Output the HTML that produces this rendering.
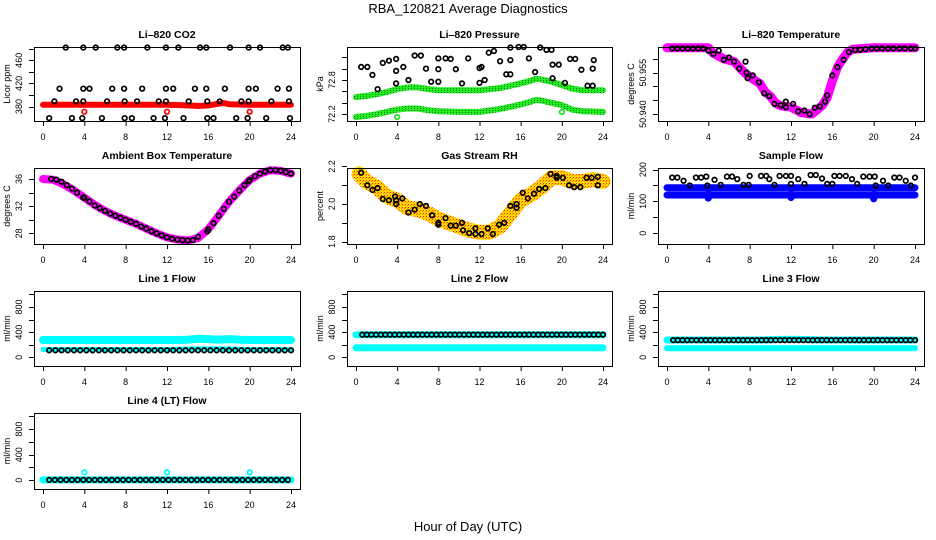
<!DOCTYPE html>
<html><head><meta charset="utf-8"><title>RBA_120821 Average Diagnostics</title>
<style>
html,body{margin:0;padding:0;background:#fff;}
svg{display:block;font-family:"Liberation Sans",sans-serif;}
.t{font-size:10.5px;font-weight:bold;text-anchor:middle;}
.tk{font-size:9px;text-anchor:middle;}
</style></head>
<body>
<svg id="chart" width="936" height="540" viewBox="0 0 936 540">
<defs>
<pattern id="pGreen" width="3" height="2" patternUnits="userSpaceOnUse"><rect width="3" height="2" fill="#22ee22"/><rect width="1" height="1" fill="#117711"/></pattern>
<pattern id="pRH" width="3" height="3" patternUnits="userSpaceOnUse"><rect width="3" height="3" fill="#ffd800"/><rect width="1" height="1" fill="#ff2000"/><rect x="2" y="1" width="1" height="1" fill="#ff8000"/></pattern>
</defs>
<text x="468" y="13" text-anchor="middle" font-size="13">RBA_120821  Average Diagnostics</text>
<text x="468" y="531" text-anchor="middle" font-size="13">Hour of Day (UTC)</text>
</svg>
<script>
// ---------- data ----------
const xTicks=[0,4,8,12,16,20,24];
// CO2
const co2BlackX=[2.2,3.9,5.1,7.2,7.85,10.1,11.9,13.1,15.2,15.8,18.1,19.9,21.0,23.2,23.7,
 1.6,3.9,4.5,6.7,7.85,9.6,11.9,12.6,14.7,15.8,17.6,19.9,20.6,22.7,23.8,
 1.1,3.2,3.9,6.2,7.9,9.1,11.2,11.9,14.1,15.9,17.1,19.2,19.9,22.1,23.8,
 0.6,2.8,3.8,5.7,7.9,8.6,10.7,11.8,13.6,15.9,16.5,18.7,19.8,21.6,23.9];
const co2BlackY=[482,482,482,482,482,482,482,482,482,482,482,482,482,482,482,
 411,411,411,411,411,411,411,411,411,411,411,411,411,411,411,
 389,389,389,389,389,389,389,389,389,389,389,389,389,389,389,
 360,360,360,360,360,360,360,360,360,360,360,360,360,360,360];
const co2RedX=[0,2,4,6,8,10,12,14,15,16,17,17.5,18,20,22,24];
const co2RedY=[383,383,383,383,383,383,383,382,381,382,385,386,384,383,383,383];
const co2OutX=[4,12,20];
const co2OutY=[371,371,371];
// Pressure
const presBandX=[0,1,2,3,4,5,6,7,8,10,12,14,16,17,17.5,18,19,20,21,22,24];
const presUpperY=[72.5,72.52,72.55,72.59,72.64,72.67,72.67,72.64,72.62,72.62,72.62,72.66,72.74,72.79,72.82,72.81,72.77,72.71,72.65,72.62,72.62];
const presLowerY=[72.15,72.17,72.2,72.24,72.28,72.3,72.3,72.27,72.25,72.24,72.24,72.29,72.37,72.42,72.45,72.44,72.40,72.36,72.28,72.25,72.24];
const presOutX=[4,20];
const presOutY=[72.15,72.24];
const presBlackX=[0.5,1.1,1.6,2.1,2.6,3.2,3.9,3.9,3.9,4.6,5.1,5.7,6.3,6.8,7.3,8.0,8.0,8.0,8.7,9.2,9.7,10.3,10.9,12.0,12.2,12.0,12.5,12.9,13.4,14.0,15.0,15.0,14.6,15.0,15.8,16.3,16.8,17.4,17.9,18.5,19.0,19.1,19.7,19.1,20.3,20.8,21.3,21.9,22.5,23.0,23.1,23.0];
const presBlackY=[73.03,73.03,72.89,72.64,73.1,73.14,73.17,72.96,72.74,73.03,72.8,73.23,73.23,73.0,72.77,72.77,72.99,73.18,73.18,73.17,72.99,72.74,73.18,73.01,73.03,72.75,72.8,73.28,73.31,73.13,73.37,73.15,72.9,72.9,73.38,73.38,73.18,72.94,73.37,73.33,73.33,73.07,73.07,72.83,72.75,73.17,73.17,72.98,72.7,72.7,73.15,73.0];
// Li-820 temperature
const tempBandX=[0,4,4.5,5.5,6.5,7,7.5,8,9,9.5,10,10.5,11,12,13,14,14.5,15,15.5,16,16.5,17,17.5,18,20,24];
const tempBandY=[50.964,50.964,50.962,50.960,50.959,50.957,50.955,50.9535,50.951,50.948,50.9465,50.944,50.943,50.9425,50.9405,50.940,50.9415,50.943,50.946,50.952,50.957,50.960,50.9625,50.9635,50.964,50.964];
const tempBlackX=[0.5,1,1.5,2,2.5,3,3.5,4.0,4.5,5.0,5.5,6.0,6.5,7.0,7.6,7.7,7.8,8.3,8.9,9.4,9.9,10.4,11.0,11.5,11.5,12.2,12.7,13.3,13.8,14.3,14.8,15.3,15.5,16.0,16.5,17.1,17.6,18.2,18.7,19.2,19.8,20.3,20.8,21.4,21.9,22.5,23.0,23.6,24];
const tempBlackY=[50.9638,50.9638,50.9638,50.9638,50.9638,50.9638,50.9638,50.963,50.9618,50.963,50.9597,50.9605,50.959,50.9565,50.959,50.955,50.953,50.954,50.9515,50.9475,50.9465,50.9437,50.9432,50.9445,50.9425,50.9437,50.941,50.9413,50.940,50.9423,50.9428,50.9445,50.9468,50.954,50.957,50.9597,50.9625,50.9632,50.9633,50.9635,50.9638,50.9638,50.9638,50.9638,50.9638,50.9638,50.9638,50.9638,50.9638];
// Ambient box temperature
const ambX=[0,1,2,3,4,5,6,7,8,9,10,11,12,13,14,15,16,17,18,19,20,21,22,23,24];
const ambY=[36.0,35.9,35.2,34.3,33.25,32.2,31.3,30.6,30.0,29.4,28.7,28.0,27.4,27.1,26.95,27.3,28.6,30.6,32.65,34.3,35.85,36.8,37.3,37.2,36.8];
const ambBlackX=[0.8,1.3,1.8,2.3,2.8,3.3,3.9,4.0,4.5,5.0,5.5,6.0,6.5,7.0,7.5,8.0,8.5,9.0,9.5,10.0,10.5,11.0,11.5,12.0,12.5,13.0,13.5,14.0,14.5,15.0,15.9,16.0,16.5,17.0,17.5,18.0,18.5,19.0,19.5,19.9,20.0,20.5,21.0,21.5,22.0,22.5,23.0,23.5,24.0];
const ambBlackY=[36.0,35.9,35.6,35.1,34.6,34.0,33.3,33.2,32.7,32.1,31.7,31.3,30.9,30.6,30.3,30.0,29.7,29.4,29.0,28.7,28.3,28.0,27.7,27.4,27.2,27.1,27.0,26.95,27.0,27.5,28.3,28.6,29.5,30.6,31.6,32.65,33.4,34.3,35.1,35.7,35.85,36.4,36.8,37.1,37.3,37.3,37.2,37.0,36.8];
// Gas stream RH
const rhBandX=[0.3,1,2,3,4,5,6,7,8,9,10,11,12,13,14,15,16,17,18,19,20,21,22,23,24];
const rhBandY=[2.16,2.12,2.09,2.04,2.02,1.98,1.97,1.95,1.92,1.9,1.88,1.86,1.85,1.85,1.88,1.95,2.02,2.05,2.09,2.14,2.14,2.12,2.12,2.13,2.12];
const rhBlackX=[0.5,1.1,1.6,2.1,2.6,3.2,3.8,3.9,3.9,4.5,5.1,5.7,6.2,6.8,7.4,8.0,8.0,8.7,9.2,9.7,10.3,10.4,11.0,11.6,11.6,12.2,12.8,13.3,13.9,14.4,15.0,15.6,15.6,16.2,16.7,17.3,17.8,18.4,18.9,19.5,19.5,20.1,20.7,21.2,21.8,22.4,22.9,23.5,23.5];
const rhBlackY=[2.167,2.10,2.075,2.085,2.027,2.02,2.04,2.02,2.0,2.03,1.955,1.97,2.0,1.99,1.94,1.9,1.89,1.925,1.885,1.885,1.9,1.86,1.845,1.84,1.87,1.84,1.87,1.84,1.89,1.9,1.99,2.0,1.98,2.06,2.03,2.055,2.08,2.085,2.16,2.15,2.14,2.14,2.1,2.09,2.09,2.14,2.14,2.145,2.1];
// Sample flow
const sfBandX=[0,3.9,4,4.1,11.9,12,12.1,19.9,20,20.1,24];
const sfUpperY=[143,143,138,143,143,140,143,143,140,143,143];
const sfLowerY=[120,120,110,120,120,112,120,120,108,120,120];
const sfBlackX=[0.5,1.0,1.6,2.2,2.8,3.3,3.8,3.9,4.6,5.2,5.8,6.3,6.8,7.4,7.9,8.0,9.1,9.6,9.9,10.4,10.9,11.5,12.0,12.0,12.7,13.3,13.9,14.4,15.0,15.5,16.0,16.2,16.7,17.3,17.9,18.4,19.0,19.6,20.1,20.2,20.9,21.4,22.0,22.5,23.1,23.6,24.0];
const sfBlackY=[175,175,165,150,175,175,178,150,168,152,178,178,170,152,152,180,180,180,170,152,180,180,180,155,170,155,183,183,172,155,155,180,180,180,170,155,178,178,178,150,165,150,175,175,165,150,175];
// Line flows (hourly values, hours 0..24)
const flowHours=[0,1,2,3,4,5,6,7,8,9,10,11,12,13,14,15,16,17,18,19,20,21,22,23,24];
const line1CyanHi=[275,275,275,275,275,275,275,275,275,275,275,275,275,275,280,295,290,280,290,280,275,275,275,275,275];
const line1CyanLo=[125,125,125,125,125,125,125,125,125,125,125,125,125,130,135,135,135,135,135,130,125,125,125,125,125];
const line1Black=[112,112,112,112,112,112,112,112,112,112,112,112,112,112,112,112,112,112,112,112,112,112,112,112,112];
const line2CyanHi=[360,360,360,360,360,360,360,360,360,360,360,360,360,360,360,360,360,360,360,360,360,360,360,360,360];
const line2CyanLo=[152,152,152,152,152,152,152,152,152,152,152,152,152,152,152,152,152,152,152,152,152,152,152,152,152];
const line2Black=[360,360,360,360,360,360,360,360,360,360,360,360,360,360,360,360,360,360,360,360,360,360,360,360,360];
const line3CyanHi=[275,275,275,275,275,275,275,275,275,275,280,285,285,285,280,275,275,275,275,275,275,275,275,275,275];
const line3CyanLo=[145,145,145,145,145,145,145,145,145,145,145,145,145,145,145,145,145,145,145,145,145,145,145,145,145];
const line3Black=[273,273,273,273,273,273,273,273,273,273,273,273,273,273,273,273,273,273,273,273,273,273,273,273,273];
const line4Cyan=[5,5,5,5,5,5,5,5,5,5,5,5,5,5,5,5,5,5,5,5,5,5,5,5,5];
const line4Black=[5,5,5,5,5,5,5,5,5,5,5,5,5,5,5,5,5,5,5,5,5,5,5,5,5];
const line4OutX=[4,12,20];
const line4OutY=[125,125,125];

// ---------- drawing ----------
const svg=document.getElementById('chart');
const NS='http://www.w3.org/2000/svg';
function mk(tag,attrs,parent){const e=document.createElementNS(NS,tag);for(const k in attrs)e.setAttribute(k,attrs[k]);(parent||svg).appendChild(e);return e;}
const cols=[[34,300],[347,612],[658,924]];
const rows=[[47,121],[168,244],[291,366],[413,489]];

function panel(key,title,c,r,ylim,yticks,ylabels,ylab,dec){
  const [x0,x1]=cols[c],[y0,y1]=rows[r];
  const g=mk('g',{});
  
  
  const sx=h=>x0+9+h*(x1-x0-18)/24;
  const sy=v=>y1-(v-ylim[0])/(ylim[1]-ylim[0])*(y1-y0);
  const tt=mk('text',{x:(x0+x1)/2,y:y0-9,class:'t'},g);tt.textContent=title;
  
  
  const data=mk('g',{},g);
  
  
  const box=mk('rect',{x:x0+0.5,y:y0+0.5,width:x1-x0,height:y1-y0,fill:'none',stroke:'#000','stroke-width':1},g);
  
  
  const xa=mk('g',{},g);
  
  
  mk('line',{x1:sx(0),x2:sx(24),y1:y1+0.5,y2:y1+0.5,stroke:'#000'},xa);
  xTicks.forEach(t=>{
    mk('line',{x1:sx(t)+0.5,x2:sx(t)+0.5,y1:y1,y2:y1+5,stroke:'#000'},xa);
    const l=mk('text',{x:sx(t),y:y1+19,class:'tk'},xa);l.textContent=t;
    
    
  });
  const ya=mk('g',{},g);
  
  
  yticks.forEach(t=>{
    const y=Math.round(sy(t))+0.5;
    mk('line',{x1:x0-5,x2:x0,y1:y,y2:y,stroke:'#000'},ya);
  });
  ylabels.forEach(t=>{
    const y=sy(t);
    const l=mk('text',{x:x0-12,y:y,class:'tk',transform:`rotate(-90 ${x0-12} ${y})`},ya);l.textContent=t.toFixed(dec||0);
    
    
  });
  const yl=mk('text',{x:x0-24,y:(y0+y1)/2,class:'tk',transform:`rotate(-90 ${x0-24} ${(y0+y1)/2})`},g);yl.textContent=ylab;
  
  
  return {sx,sy,g:data};
}
function band(p,xs,ys,color,w,name){
  const d=xs.map((x,i)=>(i?'L':'M')+p.sx(x).toFixed(1)+' '+p.sy(ys[i]).toFixed(1)).join(' ');
  const e=mk('path',{d:d,fill:'none',stroke:color,'stroke-width':w,'stroke-linecap':'round','stroke-linejoin':'round'},p.g);
  
  
}
function pts(p,xs,ys,color,name){
  const g=mk('g',{},p.g);
  
  
  xs.forEach((x,i)=>{mk('circle',{cx:p.sx(x),cy:p.sy(ys[i]),r:2.3,fill:'none',stroke:color,'stroke-width':1.7},g);});
}
function dense(hourly,start,step){const xs=[],ys=[];for(let h=start;h<=24.01;h+=step){xs.push(h);ys.push(hourly[Math.min(24,Math.round(h))]);}return [xs,ys];}

let p;
p=panel('co2','Li\u2013820 CO2',0,0,[355,483],[380,400,420,440,460,480],[380,420,460],'Licor ppm',0);
band(p,co2RedX,co2RedY,'#ff0000',6,'co2-red-band');
pts(p,co2OutX,co2OutY,'#ff0000','co2-red-outliers');
pts(p,co2BlackX,co2BlackY,'#000','co2-black-points');

p=panel('pressure','Li\u2013820 Pressure',1,0,[72.08,73.38],[72.2,72.4,72.6,72.8,73.0,73.2],[72.2,72.8],'kPa',1);
band(p,presBandX,presUpperY,'url(#pGreen)',6,'pressure-upper-band');
band(p,presBandX,presLowerY,'url(#pGreen)',6,'pressure-lower-band');
pts(p,presOutX,presOutY,'#22dd22','pressure-green-outliers');
pts(p,presBlackX,presBlackY,'#000','pressure-black-points');

p=panel('li820-temp','Li\u2013820 Temperature',2,0,[50.9375,50.9643],[50.940,50.945,50.950,50.955,50.960],[50.940,50.955],'degrees C',3);
band(p,tempBandX,tempBandY,'#ff00ff',9,'temperature-band');
pts(p,tempBlackX,tempBlackY,'#000','temperature-black-points');

p=panel('ambient','Ambient Box Temperature',0,1,[26.43,37.62],[28,30,32,34,36],[28,32,36],'degrees C',0);
band(p,ambX,ambY,'#ff00ff',8,'ambient-band');
pts(p,ambBlackX,ambBlackY,'#000','ambient-black-points');

p=panel('rh','Gas Stream RH',1,1,[1.787,2.192],[1.8,1.9,2.0,2.1,2.2],[1.8,2.0,2.2],'percent',1);
band(p,rhBandX,rhBandY,'url(#pRH)',15,'rh-band');
pts(p,rhBlackX,rhBlackY,'#000','rh-black-points');

p=panel('sample-flow','Sample Flow',2,1,[-34,205],[0,50,100,150,200],[0,100,200],'ml/min',0);
band(p,sfBandX,sfUpperY,'#0000ff',7,'sample-flow-upper-band');
band(p,sfBandX,sfLowerY,'#0000ff',7,'sample-flow-lower-band');
pts(p,sfBlackX,sfBlackY,'#000','sample-flow-black-points');

const fl=[-137,1053],ft=[0,200,400,600,800,1000],fll=[0,400,800];
let d;
p=panel('line1','Line 1 Flow',0,2,fl,ft,fll,'ml/min',0);
band(p,flowHours,line1CyanHi,'#00ffff',8,'line1-cyan-upper');
band(p,flowHours,line1CyanLo,'#00ffff',5,'line1-cyan-lower');
d=dense(line1Black,0.6,0.6);pts(p,d[0],d[1],'#000','line1-black-points');

p=panel('line2','Line 2 Flow',1,2,fl,ft,fll,'ml/min',0);
band(p,flowHours,line2CyanHi,'#00ffff',7,'line2-cyan-upper');
band(p,flowHours,line2CyanLo,'#00ffff',7,'line2-cyan-lower');
d=dense(line2Black,0.6,0.45);pts(p,d[0],d[1],'#000','line2-black-points');

p=panel('line3','Line 3 Flow',2,2,fl,ft,fll,'ml/min',0);
band(p,flowHours,line3CyanHi,'#00ffff',7,'line3-cyan-upper');
band(p,flowHours,line3CyanLo,'#00ffff',6,'line3-cyan-lower');
d=dense(line3Black,0.6,0.45);pts(p,d[0],d[1],'#000','line3-black-points');

p=panel('line4','Line 4 (LT) Flow',0,3,fl,ft,fll,'ml/min',0);
band(p,flowHours,line4Cyan,'#00ffff',7,'line4-cyan-band');
pts(p,line4OutX,line4OutY,'#00ffff','line4-cyan-outliers');
d=dense(line4Black,0.6,0.55);pts(p,d[0],d[1],'#000','line4-black-points');
</script>
</body></html>
